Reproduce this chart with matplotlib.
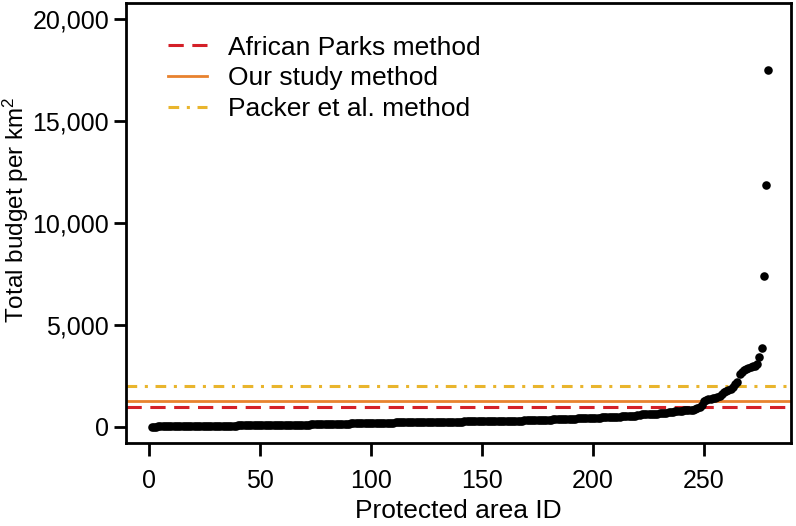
import matplotlib
matplotlib.use("Agg")
import matplotlib.pyplot as plt
import numpy as np

plt.rcParams['font.family'] = ['Liberation Sans', 'DejaVu Sans']
plt.rcParams['mathtext.fontset'] = 'custom'
plt.rcParams['mathtext.rm'] = 'Liberation Sans'
plt.rcParams['mathtext.it'] = 'Liberation Sans'

# budget per km2 for each protected area, sorted ascending
budget = [
    0, 2, 4, 6, 8, 10, 11, 12, 14, 15, 16, 18, 19, 20, 22, 23, 24, 26, 28, 30,
    31, 32, 33, 35, 36, 37, 39, 40, 41, 42, 43, 45, 46, 47, 48, 50, 51, 52, 53, 55,
    56, 57, 58, 59, 60, 62, 63, 64, 65, 66, 68, 69, 70, 71, 72, 74, 75, 77, 79, 80,
    82, 83, 85, 87, 89, 91, 93, 95, 97, 99, 101, 103, 105, 107, 109, 111, 113, 115, 118, 120,
    123, 126, 129, 132, 135, 138, 141, 144, 147, 150, 153, 156, 159, 162, 165, 168, 171, 174, 177, 180,
    183, 186, 188, 190, 192, 194, 195, 197, 199, 201, 203, 205, 207, 209, 211, 213, 215, 217, 219, 221,
    223, 224, 226, 227, 228, 230, 231, 232, 233, 234, 236, 237, 238, 240, 241, 243, 244, 246, 247, 248,
    250, 251, 252, 254, 255, 256, 258, 259, 260, 262, 264, 266, 268, 270, 272, 274, 276, 278, 280, 282,
    284, 286, 288, 290, 292, 294, 296, 298, 300, 303, 306, 309, 312, 316, 320, 324, 328, 332, 337, 342,
    347, 352, 357, 362, 367, 371, 375, 379, 383, 387, 391, 395, 399, 403, 407, 411, 415, 419, 423, 428,
    433, 438, 443, 448, 453, 458, 464, 470, 476, 482, 488, 494, 500, 506, 512, 518, 524, 530, 545, 580,
    590, 600, 605, 610, 615, 620, 625, 630, 640, 650, 660, 670, 685, 700, 715, 730, 745, 760, 775, 790,
    800, 810, 820, 830, 840, 860, 930, 980, 1050, 1250, 1300, 1340, 1370, 1390, 1420, 1450, 1520, 1600, 1680, 1740,
    1790, 1850, 1950, 2100, 2200, 2600, 2700, 2760, 2820, 2870, 2920, 2960, 3000, 3060, 3430, 3850, 7390, 11850, 17500,
]
area_id = np.arange(1, len(budget) + 1)

# reference lines for the three methods
method_names = ['African Parks method', 'Our study method', 'Packer et al. method']
method_values = [970, 1270, 2000]
method_colors = ['#d42028', '#e8822e', '#e9b52d']

fig = plt.figure(figsize=(7.96, 5.26), dpi=100)
ax = fig.add_axes([0.158, 0.158, 0.836, 0.836])

ax.axhline(method_values[0], color=method_colors[0], lw=2.2, ls=(0, (5, 2.8)),
           label=method_names[0], zorder=2)
ax.axhline(method_values[1], color=method_colors[1], lw=2.0, ls='-',
           label=method_names[1], zorder=2)
ax.axhline(method_values[2], color=method_colors[2], lw=2.2, ls=(0, (3.5, 2.5, 1, 2.5)),
           label=method_names[2], zorder=2)

ax.scatter(area_id, budget, s=38, color='black', zorder=3, linewidths=0)

ax.set_xlim(-10.6, 289.3)
ax.set_ylim(-800, 20800)
ax.set_xticks([0, 50, 100, 150, 200, 250])
ax.set_yticks([0, 5000, 10000, 15000, 20000])
ax.set_yticklabels(['0', '5,000', '10,000', '15,000', '20,000'])

for s in ax.spines.values():
    s.set_linewidth(2)
ax.tick_params(axis='both', direction='out', length=9, width=2, labelsize=18)
ax.tick_params(axis='y', pad=3)
ax.tick_params(axis='x', pad=10)

ax.set_xlabel('Protected area ID', fontsize=19)
ax.xaxis.set_label_coords(0.5, -0.128)
ax.set_ylabel('Total budget per km$^2$', fontsize=17.5)
ax.yaxis.set_label_coords(-0.143, 0.53)

leg = ax.legend(loc='upper left', frameon=False, fontsize=19, handlelength=1.5,
                handletextpad=0.8, labelspacing=0.25, borderaxespad=0, borderpad=0,
                bbox_to_anchor=(0.063, 0.926))

fig.savefig('out.png', dpi=100)
